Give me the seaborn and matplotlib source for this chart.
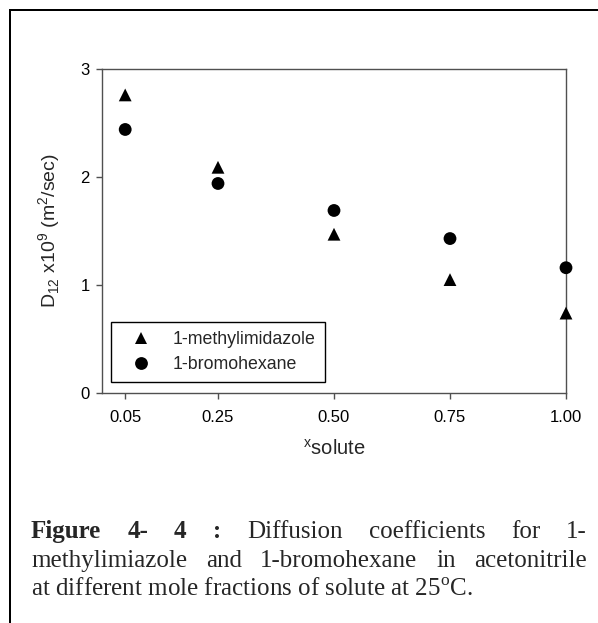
import numpy as np
import pandas as pd
import matplotlib
matplotlib.use("Agg")
import matplotlib.pyplot as plt
from matplotlib.lines import Line2D
import seaborn as sns

# Mole fraction of solute and measured diffusion coefficients (x10^9 m^2/s)
x_solute = [0.05, 0.25, 0.50, 0.75, 1.00]
d_methylimidazole = [2.76, 2.09, 1.47, 1.05, 0.74]
d_bromohexane = [2.44, 1.94, 1.69, 1.43, 1.16]
x_ticks = [0.05, 0.25, 0.50, 0.75, 1.00]
x_tick_labels = ["0.05", "0.25", "0.50", "0.75", "1.00"]
y_ticks = [0, 1, 2, 3]

caption_bold = ["Figure", "4-", "4", ":"]
caption_line1 = ["Diffusion", "coefficients", "for", "1-"]
caption_line2 = ["methylimiazole", "and", "1-bromohexane", "in", "acetonitrile"]
caption_line3 = r"at different mole fractions of solute at 25$^{\mathregular{o}}$C."

sns.set_theme(style="ticks")
plt.rcParams["font.family"] = ["Liberation Sans", "DejaVu Sans"]

W, H, DPI = 598, 623, 100
fig = plt.figure(figsize=(W / DPI, H / DPI), dpi=DPI)
fig.patch.set_facecolor("white")

ax_l, ax_r, ax_t, ax_b = 102, 566, 69, 393
ax = fig.add_axes([ax_l / W, 1 - ax_b / H, (ax_r - ax_l) / W, (ax_b - ax_t) / H])
ax.set_facecolor("white")

df = pd.DataFrame({
    "x": x_solute * 2,
    "D": d_methylimidazole + d_bromohexane,
    "solute": ["1-methylimidazole"] * len(x_solute) + ["1-bromohexane"] * len(x_solute),
})
sns.scatterplot(data=df, x="x", y="D", style="solute",
                markers={"1-methylimidazole": "^", "1-bromohexane": "o"},
                color="black", s=85, linewidth=0, clip_on=False, zorder=3, ax=ax)

ax.set_xlim(0, 1.0)
ax.set_ylim(0, 3)
ax.set_xticks(x_ticks)
ax.set_xticklabels(x_tick_labels)
ax.set_yticks(y_ticks)

spine_color = "#505050"
for side in ["left", "right", "top", "bottom"]:
    ax.spines[side].set_visible(True)
    ax.spines[side].set_color(spine_color)
    ax.spines[side].set_linewidth(1.0)
ax.tick_params(axis="both", direction="out", length=4, width=1.0,
               color=spine_color, labelsize=12, labelcolor="black")
ax.tick_params(axis="x", pad=8)
ax.tick_params(axis="y", pad=5)

ax.set_xlabel(r"$^{\mathregular{x}}\mathregular{solute}$", fontsize=14.5, labelpad=10)
ax.set_ylabel(r"D$_{\mathregular{12}}$ x10$^{\mathregular{9}}$ (m$^{\mathregular{2}}$/sec)",
              fontsize=14, labelpad=12)

leg = ax.legend(loc="lower left", bbox_to_anchor=(0.019, 0.035), borderaxespad=0,
                fontsize=12.8, frameon=True, fancybox=False, edgecolor="black",
                handlelength=2.35, handletextpad=0.65, borderpad=0.5,
                labelspacing=0.45, title=None)
leg.get_frame().set_linewidth(1.0)
leg.get_frame().set_alpha(1)

# Page border on the left and top
lw_px = 2.0
fig.add_artist(Line2D([10 / W, 10 / W], [0, 1 - 10 / H], transform=fig.transFigure,
                      color="black", linewidth=lw_px * 72 / DPI, solid_capstyle="projecting"))
fig.add_artist(Line2D([10 / W, 1], [1 - 10 / H, 1 - 10 / H], transform=fig.transFigure,
                      color="black", linewidth=lw_px * 72 / DPI, solid_capstyle="projecting"))

# Justified caption underneath
serif = ["Liberation Serif", "DejaVu Serif"]
cap_size = 18
cap_left, cap_right = 31, 587
baselines = [538, 567, 596]

fig.canvas.draw()
renderer = fig.canvas.get_renderer()


def word_width(word, weight):
    t = fig.text(0, 0, word, fontsize=cap_size, family=serif, weight=weight)
    w = t.get_window_extent(renderer).width
    t.remove()
    return w


def justified(words, weights, baseline):
    widths = [word_width(w, wt) for w, wt in zip(words, weights)]
    gap = (cap_right - cap_left - sum(widths)) / (len(words) - 1)
    xpos = cap_left
    for w, wt, wd in zip(words, weights, widths):
        fig.text(xpos / W, 1 - baseline / H, w, fontsize=cap_size, family=serif,
                 weight=wt, ha="left", va="baseline")
        xpos += wd + gap


justified(caption_bold + caption_line1,
          ["bold"] * len(caption_bold) + ["normal"] * len(caption_line1), baselines[0])
justified(caption_line2, ["normal"] * len(caption_line2), baselines[1])
fig.text(cap_left / W, 1 - baselines[2] / H, caption_line3, fontsize=cap_size,
         family=serif, ha="left", va="baseline")

fig.savefig("out.png", dpi=DPI)
